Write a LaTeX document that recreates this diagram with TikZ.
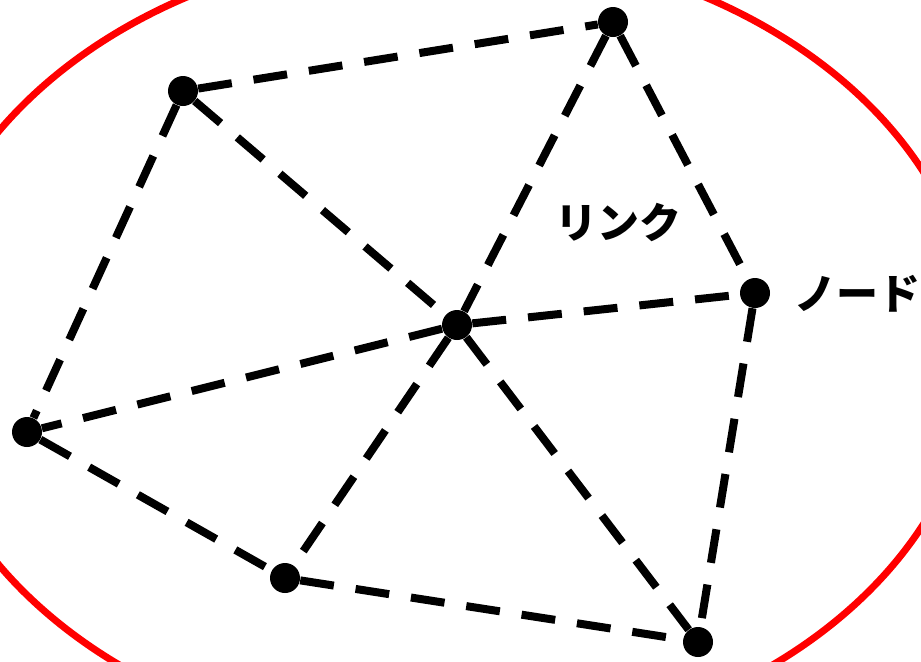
\documentclass[tikz,border=0pt]{standalone}
\usepackage{fontspec}
\newfontfamily\jpfont{Noto Sans CJK JP}

\begin{document}
\begin{tikzpicture}[
x=0.5pt, y=-0.5pt,
dot/.style={circle, fill=black, inner sep=0pt, minimum size=15pt},
link/.style={draw, line width=4pt, dash pattern=on 17pt off 11pt},
area/.style={draw=red, line width=3.5pt},
labeltext/.style={font=\jpfont\bfseries\fontsize{21}{24}\selectfont, inner sep=0pt}
]

\useasboundingbox (0,0) rectangle (921,661);
\clip (0,0) rectangle (921,661);

% =====================================================
% Network area
% =====================================================
\draw[area] (446,348) ellipse [x radius=531, y radius=402];

% =====================================================
% Nodes
% =====================================================
\node[dot] (A) at (183,91) {};
\node[dot] (B) at (613,22) {};
\node[dot] (C) at (457,325) {};
\node[dot] (D) at (755,293) {};
\node[dot] (E) at (27,432) {};
\node[dot] (F) at (285,578) {};
\node[dot] (G) at (698,642) {};

% Links
\foreach \p/\q in {A/B, A/E, A/C, B/C, B/D, C/D, C/E, C/F, C/G, E/F, F/G, D/G}{
\draw[link] (\p) -- (\q);
}

% Labels
\node[labeltext] (linklabel) at (618,222) {リンク};
\node[labeltext] (nodelabel) at (857,294) {ノード};

\end{tikzpicture}
\end{document}
